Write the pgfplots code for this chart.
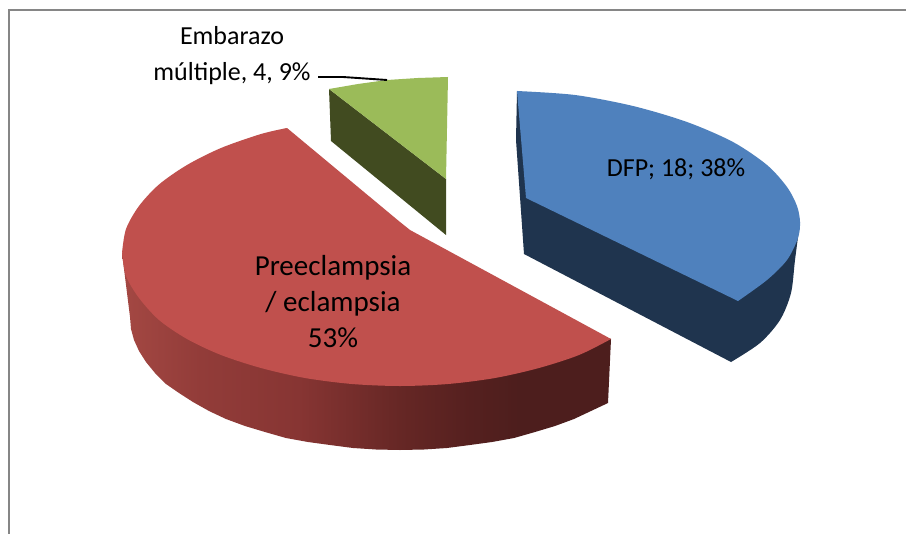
\documentclass[border=0pt]{standalone}
\usepackage{fontspec}
\setmainfont{Carlito}
\usepackage{pgfplots}
\pgfplotsset{compat=1.18}
\definecolor{bluetop}{RGB}{79,129,189}
\definecolor{bluewall}{RGB}{31,52,78}
\definecolor{redtop}{RGB}{192,80,77}
\definecolor{greentop}{RGB}{155,187,89}
\definecolor{greenwall}{RGB}{65,75,32}
\definecolor{frameline}{RGB}{134,134,134}
\definecolor{rw1}{RGB}{164,72,67}
\definecolor{rw2}{RGB}{146,60,57}
\definecolor{rw3}{RGB}{135,53,51}
\definecolor{rw4}{RGB}{102,39,37}
\definecolor{rw5}{RGB}{85,32,31}
\definecolor{rw6}{RGB}{77,30,29}
\pgfdeclarehorizontalshading{redwall}{100bp}{
  color(0bp)=(rw1); color(25bp)=(rw1); color(33bp)=(rw2); color(43bp)=(rw3);
  color(53.4bp)=(rw4); color(60.6bp)=(rw5); color(65.7bp)=(rw6); color(100bp)=(rw6)}
\begin{document}
\begin{tikzpicture}
\begin{axis}[
  scale only axis, width=906bp, height=534bp,
  xmin=0, xmax=906, ymin=0, ymax=534, y dir=reverse,
  hide axis, clip=true]
% white canvas
\addplot[fill=white, draw=none] coordinates {(0,0)(906,0)(906,534)(0,534)} -- cycle;
% frame
\addplot[frameline, line width=2bp] coordinates {(9,534)(9,10)(906,10)};
% green slice
\addplot[fill=greenwall, draw=none] coordinates {(329,89)(331,141)(446,235)(446,179)} -- cycle;
\addplot[fill=greentop, draw=none] coordinates {(329,89)(358,84)(387,80)(418,78)(448,77)(447,128)(446,179)} -- cycle;
% blue slice
\addplot[fill=bluewall, draw=none] coordinates {(517,91)(516,140)(524,254)(731,362)(770,320)(790,270)(800,222)} -- cycle;
\addplot[fill=bluewall, draw=none, smooth] coordinates {(800,222)(795,260)(791,293)(780,320)(760,343)(731,362)};
\addplot[fill=bluetop, draw=none] coordinates {(517,91)(526,198)(738,301)(780,220)(700,140)} -- cycle;
\addplot[fill=bluetop, draw=none, smooth] coordinates {(517,91)(575,95)(633,106)(687,122)(733,142)(767,165)(787,187)(797,206)(800,222)(798,238)(787,260)(767,280)(738,301)};
% red slice
\addplot[draw=none, shading=redwall, shading angle=0] coordinates {(122,253)(130,317)(131,329)(134,340)(139,351)(146,362)(155,373)(166,384)(179,393)(193,402)(209,411)(226,419)(245,426)(265,432)(286,438)(308,442)(330,445)(353,448)(376,449.5)(400,450)(424,449.5)(447,448)(470,445)(492,442)(514,438)(535,432)(555,426)(574,419)(591,411)(608,403)(611,339)} -- cycle;
\addplot[fill=redtop, draw=none] coordinates {(287,128)(400,222)(410,230)(611,339)(560,345)(400,375)(200,335)(140,280)(122,253)(165,190)(230,155)} -- cycle;
\addplot[fill=redtop, draw=none, smooth] coordinates {(611,339)(579,355)(539,368)(495,378)(448,384)(400,386)(352,384)(305,378)(261,368)(221,355)(187,339)(159,320)(139,298)(126,276)(122,253)};
\addplot[fill=redtop, draw=none, smooth] coordinates {(122,253)(126,229)(139,206)(159,184.5)(187,165)(221,148)(261,134)(287,128)};
% leader line
\addplot[black, line width=1.9bp] coordinates {(318,77)(343,77)(387,80)};
% labels
\node[align=center, font=\fontsize{26.1}{36.1}\selectfont] at (axis cs:232,56) {Embarazo\\múltiple, 4, 9\%};
\node[font=\fontsize{26.1}{36.1}\selectfont] at (axis cs:676,169) {DFP; 18; 38\%};
\node[align=center, font=\fontsize{29.1}{36.1}\selectfont] at (axis cs:333,302) {Preeclampsia\\/ eclampsia\\53\%};
\end{axis}
\end{tikzpicture}
\end{document}
